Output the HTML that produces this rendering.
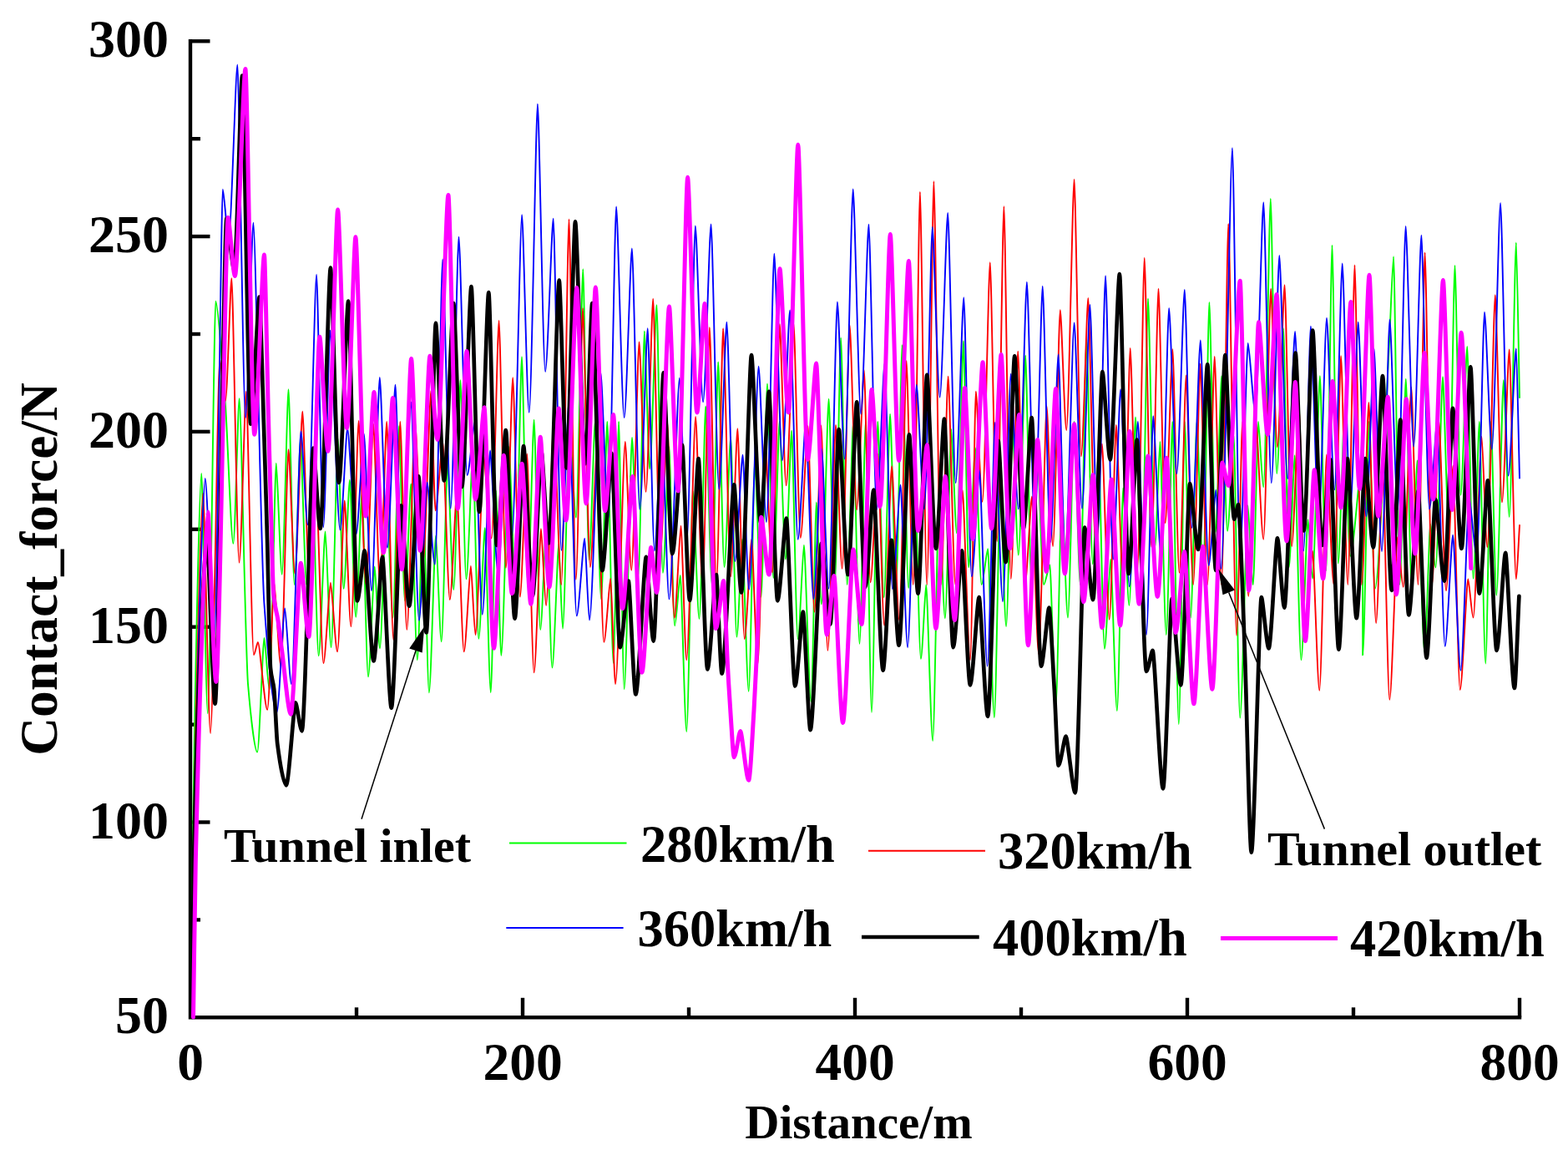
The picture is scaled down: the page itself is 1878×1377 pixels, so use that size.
<!DOCTYPE html>
<html><head><meta charset="utf-8"><title>Contact force</title>
<style>html,body{margin:0;padding:0;background:#fff}svg{display:block}text{font-family:"Liberation Serif",serif;font-weight:bold;fill:#000}</style></head>
<body>
<svg width="1878" height="1377" viewBox="0 0 1878 1377">
<rect width="1878" height="1377" fill="#fff"/>
<g stroke="#000" stroke-width="4.4" fill="none" stroke-linecap="butt">
<path d="M228.0 47.1 V1218.3 H1822.2"/>
<path d="M228.0 1101.4 h12.0"/>
<path d="M228.0 984.5 h23.5"/>
<path d="M228.0 867.6 h12.0"/>
<path d="M228.0 750.7 h23.5"/>
<path d="M228.0 633.8 h12.0"/>
<path d="M228.0 516.9 h23.5"/>
<path d="M228.0 400.0 h12.0"/>
<path d="M228.0 283.1 h23.5"/>
<path d="M228.0 166.2 h12.0"/>
<path d="M228.0 49.3 h23.5"/>
<path d="M427.0 1218.3 v-12.0"/>
<path d="M626.0 1218.3 v-23.5"/>
<path d="M825.0 1218.3 v-12.0"/>
<path d="M1024.0 1218.3 v-23.5"/>
<path d="M1223.0 1218.3 v-12.0"/>
<path d="M1422.0 1218.3 v-23.5"/>
<path d="M1621.0 1218.3 v-12.0"/>
<path d="M1820.0 1218.3 v-23.5"/>
</g>
<g fill="none" stroke-linejoin="round" stroke-linecap="round">
<path stroke="#00ff00" stroke-width="1.9" d="M229 1218C229.6 1152.6 230.4 1040.4 231 1000C234.1 791.7 239.2 567 241.3 567C242.8 567 246.7 854.3 248.8 854.3C251.5 854.3 256.4 360.6 258.3 360.6C260.7 360.6 266.5 439.1 270 486C272.8 524 276.8 650.8 279.4 650.8C281.4 650.8 285.2 477.3 286.6 477.3C288.7 477.3 293.9 781.4 297 819C300.4 859.3 305.1 900.6 308.2 900.6C310.5 900.6 314.8 764 316.5 764C317.7 764 321 825.8 322.7 825.8C325 825.8 329.2 554.6 330.8 554.6C332.2 554.6 335.8 687.7 337.7 687.7C339.9 687.7 344 466.3 345.5 466.3C347 466.3 350.7 700 352.7 700C354.7 700 358.5 526.4 359.9 526.4C361.4 526.4 365.1 700 367.1 700C369.2 700 372.9 580 374.4 580C375.8 580 379.6 785.3 381.6 785.3C383.8 785.3 388 636.5 389.6 636.5C391 636.5 394.7 775.3 396.6 775.3C398.9 775.3 403 525.2 404.6 525.2C406 525.2 409.6 704.9 411.6 704.9C413.6 704.9 417.4 574.7 418.9 574.7C420.4 574.7 424.2 738.7 426.2 738.7C428.3 738.7 432.1 590 433.6 590C435.1 590 438.9 810.4 441 810.4C443.2 810.4 447.2 678.4 448.8 678.4C450 678.4 453.3 776.5 455 776.5C457.2 776.5 461.3 590 462.8 590C464.4 590 468.5 739.7 470.6 739.7C472.7 739.7 476.5 510.1 477.9 510.1C479.3 510.1 483 719.3 484.9 719.3C487 719.3 490.8 579.5 492.3 579.5C493.8 579.5 497.7 790.3 499.8 790.3C501.8 790.3 505.5 590 506.9 590C508.3 590 511.9 829.2 513.9 829.2C516.1 829.2 520.3 641.5 522 641.5C523.3 641.5 526.8 768.3 528.7 768.3C530.7 768.3 534.6 552.3 536 552.3C537.5 552.3 541.3 706.1 543.4 706.1C545.6 706.1 549.8 455.1 551.4 455.1C552.8 455.1 556.4 693.3 558.4 693.3C560.7 693.3 564.8 541.4 566.4 541.4C567.8 541.4 571.3 764.8 573.3 764.8C575.4 764.8 579.3 632.1 580.8 632.1C582.2 632.1 585.8 829.2 587.8 829.2C589.5 829.2 592.8 587.4 594 587.4C595.3 587.4 598.6 784.8 600.3 784.8C602.9 784.8 607.7 535.2 609.6 535.2C611.1 535.2 615.1 700 617.3 700C619.4 700 623.4 427.3 625 427.3C626.4 427.3 630.2 700 632.3 700C634.3 700 638.1 502.6 639.6 502.6C641.1 502.6 645 754 647.2 754C649.2 754 653.1 623.9 654.6 623.9C656 623.9 659.5 799.6 661.4 799.6C663.6 799.6 667.7 651.5 669.3 651.5C670.2 651.5 672.6 752.7 674 752.7C676.2 752.7 680.4 507.3 682 507.3C683.6 507.3 687.8 619.6 690 619.6C692.3 619.6 696.6 322.3 698.3 322.3C699.7 322.3 703.5 670.1 705.5 670.1C707.6 670.1 711.3 505 712.8 505C714.2 505 718 717.2 720 717.2C722.1 717.2 725.9 505 727.3 505C728.8 505 732.6 793.9 734.6 793.9C736.4 793.9 739.8 505 741.1 505C742.4 505 745.8 825.3 747.6 825.3C750.3 825.3 755.1 523.9 757 523.9C758.5 523.9 762.4 689 764.5 689C766.6 689 770.4 396.5 771.9 396.5C773.2 396.5 776.5 561.5 778.2 561.5C780.5 561.5 784.8 365.1 786.5 365.1C788 365.1 791.8 685.9 793.9 685.9C796 685.9 799.9 535.2 801.4 535.2C802.7 535.2 806.2 749.3 808.1 749.3C810 749.3 813.4 689 814.8 689C816.3 689 820.2 876.1 822.3 876.1C824.4 876.1 828.4 588.2 829.9 588.2C831.4 588.2 835.4 741.1 837.5 741.1C839.7 741.1 843.7 486.4 845.2 486.4C846.7 486.4 850.6 700 852.7 700C854.8 700 858.7 433.5 860.2 433.5C861.7 433.5 865.4 679 867.5 679C869.6 679 873.7 523.3 875.2 523.3C876.7 523.3 880.4 762.6 882.4 762.6C884.3 762.6 887.7 645.8 889 645.8C890.5 645.8 894.6 827.8 896.7 827.8C898.8 827.8 902.6 552 904.1 552C905.6 552 909.5 714.7 911.5 714.7C913.6 714.7 917.5 459.4 919 459.4C920.5 459.4 924.3 692 926.3 692C928.4 692 932.2 505 933.6 505C935.1 505 938.9 669.6 940.9 669.6C942.9 669.6 946.7 515.8 948.2 515.8C949.6 515.8 953.5 765.2 955.6 765.2C957.6 765.2 961.5 652.7 962.9 652.7C964.6 652.7 969 840.3 971.4 840.3C973.2 840.3 976.5 601.4 977.8 601.4C979 601.4 982.1 723.4 983.8 723.4C986.3 723.4 990.8 477.6 992.6 477.6C994 477.6 997.8 700 999.8 700C1001.9 700 1005.6 404.4 1007.1 404.4C1008.6 404.4 1012.5 700 1014.6 700C1016.6 700 1020.5 505 1022 505C1023.5 505 1027.4 770.9 1029.5 770.9C1031.5 770.9 1035.3 505 1036.8 505C1038.2 505 1042 852.8 1044 852.8C1046.1 852.8 1049.9 505 1051.3 505C1052.8 505 1056.6 715.3 1058.7 715.3C1060.7 715.3 1064.6 495.7 1066.1 495.7C1067.5 495.7 1071.3 700 1073.3 700C1075.3 700 1079.1 413.1 1080.6 413.1C1082.1 413.1 1086 704 1088.1 704C1090.2 704 1094 562.6 1095.5 562.6C1097 562.6 1100.8 788.9 1102.9 788.9C1104.7 788.9 1108 700.3 1109.2 700.3C1110.8 700.3 1115 887.1 1117.2 887.1C1119.2 887.1 1123.1 590 1124.6 590C1126 590 1129.9 740.2 1131.9 740.2C1134 740.2 1137.9 513.9 1139.4 513.9C1140.7 513.9 1144.1 638.3 1145.9 638.3C1148.2 638.3 1152.4 408.1 1154 408.1C1155.3 408.1 1158.4 679.3 1160.1 679.3C1162.4 679.3 1166.5 536.4 1168.1 536.4C1169.6 536.4 1173.5 700 1175.6 700C1177.7 700 1181.7 657.1 1183.2 657.1C1184.7 657.1 1188.7 859.1 1190.9 859.1C1192.9 859.1 1196.6 580.9 1198 580.9C1199.4 580.9 1203.1 750.1 1205.1 750.1C1207.2 750.1 1211 506.5 1212.5 506.5C1214 506.5 1217.8 664.6 1219.8 664.6C1222.2 664.6 1226.5 425.7 1228.2 425.7C1229.7 425.7 1233.5 700 1235.5 700C1237.5 700 1241.3 551.1 1242.8 551.1C1244.2 551.1 1248 700 1250.1 700C1252.1 700 1255.9 676.5 1257.4 676.5C1258.8 676.5 1262.5 845.4 1264.5 845.4C1266.5 845.4 1270.3 588.3 1271.7 588.3C1273.2 588.3 1276.9 739.6 1279 739.6C1281.1 739.6 1285 505 1286.5 505C1288 505 1291.8 700 1293.9 700C1296 700 1299.9 406.3 1301.4 406.3C1302.9 406.3 1306.7 675.3 1308.7 675.3C1310.7 675.3 1314.4 537.6 1315.8 537.6C1317.2 537.6 1320.9 776.9 1322.9 776.9C1324.9 776.9 1328.7 669.6 1330.2 669.6C1331.8 669.6 1335.8 851.1 1337.9 851.1C1339.9 851.1 1343.7 584.2 1345.2 584.2C1346.6 584.2 1350.4 724.9 1352.4 724.9C1354.5 724.9 1358.5 499.5 1360 499.5C1361.5 499.5 1365.4 690.7 1367.5 690.7C1369.6 690.7 1373.5 357.4 1375 357.4C1376.6 357.4 1380.9 655.2 1383.2 655.2C1384.9 655.2 1388.2 528.9 1389.4 528.9C1390.9 528.9 1394.7 760.1 1396.8 760.1C1398.9 760.1 1402.8 505 1404.3 505C1405.8 505 1409.7 867.1 1411.8 867.1C1413.8 867.1 1417.5 505 1418.9 505C1420.3 505 1424 739.9 1426 739.9C1428.1 739.9 1432 505 1433.5 505C1435 505 1438.9 688.2 1440.9 688.2C1443 688.2 1446.9 361.9 1448.4 361.9C1449.9 361.9 1453.7 637.1 1455.7 637.1C1457.8 637.1 1461.7 450.1 1463.2 450.1C1464.6 450.1 1468.2 635.8 1470.1 635.8C1472.2 635.8 1476.1 521.7 1477.7 521.7C1479.2 521.7 1483.1 859.6 1485.2 859.6C1487.8 859.6 1492.6 605.2 1494.5 605.2C1495.8 605.2 1499 700 1500.8 700C1502.5 700 1505.8 505 1507 505C1508.3 505 1511.5 583.3 1513.3 583.3C1515.7 583.3 1520.1 237.9 1521.8 237.9C1523.3 237.9 1527.1 567.1 1529.2 567.1C1531.4 567.1 1535.5 393.2 1537.1 393.2C1538.4 393.2 1541.9 679.2 1543.8 679.2C1545.7 679.2 1549.2 545.2 1550.6 545.2C1552.1 545.2 1556.2 790.2 1558.4 790.2C1560.6 790.2 1564.8 622.1 1566.5 622.1C1567.6 622.1 1570.5 692.8 1572.1 692.8C1574.5 692.8 1579.1 450.1 1580.9 450.1C1582.3 450.1 1586.1 683.2 1588.2 683.2C1590.2 683.2 1594 293.7 1595.5 293.7C1596.9 293.7 1600.7 674.5 1602.7 674.5C1604.7 674.5 1608.5 505 1609.9 505C1611.4 505 1615.1 665.9 1617.2 665.9C1621.3 665.9 1629 545 1632 545C1632 545 1632.2 784.4 1632.2 784.4C1634.3 784.4 1638.1 505 1639.6 505C1641 505 1644.8 704.7 1646.9 704.7C1651.5 704.7 1658.5 513.9 1663.5 420C1665.2 388.6 1667.9 307.3 1669.1 307.3C1670.5 307.3 1674.4 700 1676.4 700C1678.5 700 1682.3 453.8 1683.8 453.8C1685.2 453.8 1688.8 700 1690.7 700C1692.6 700 1696.2 551.4 1697.6 551.4C1699.3 551.4 1703.7 780.2 1706.1 780.2C1708.1 780.2 1711.8 627.7 1713.2 627.7C1714.5 627.7 1717.7 679.6 1719.5 679.6C1721.9 679.6 1726.3 451.3 1728 451.3C1729.4 451.3 1733.2 634 1735.2 634C1737.3 634 1741 318 1742.5 318C1743.9 318 1747.5 592.7 1749.5 592.7C1751.7 592.7 1755.7 415 1757.3 415C1758.7 415 1762.5 692.8 1764.5 692.8C1766.6 692.8 1770.4 505 1771.9 505C1773.4 505 1777.2 794.5 1779.3 794.5C1781.1 794.5 1784.5 505 1785.8 505C1787.1 505 1790.5 712.7 1792.3 712.7C1794.7 712.7 1799.1 455.1 1800.8 455.1C1802.2 455.1 1805.8 618.9 1807.7 618.9C1810 618.9 1814.2 290.5 1815.9 290.5C1816.7 290.5 1818.8 420.3 1820 476"/>
<path stroke="#ff0000" stroke-width="1.9" d="M229.5 1218C230.2 1152.6 231.2 1042.3 232 1000C235.4 810.6 241 590.8 243.2 590.8C245 590.8 249.6 878 252.1 878C255.2 878 261 430 263.2 430C264.6 430 268.1 480 270 480C272.1 480 275.9 333.1 277.4 333.1C279.2 333.1 283.9 673.7 286.5 673.7C288.8 673.7 293.2 468.6 294.8 468.6C296.7 468.6 301.4 784.1 303.9 784.1C305.3 784.1 307.9 769 308.9 769C311.2 769 317.1 849.9 320.2 849.9C322.5 849.9 326.8 698 328.4 698C330 698 334.2 797.8 336.5 797.8C339 797.8 343.7 538.3 345.5 538.3C347.1 538.3 351.1 686.7 353.2 686.7C355.8 686.7 360.5 492.6 362.3 492.6C364 492.6 368.3 700 370.7 700C373 700 377.3 590 379 590C380.7 590 385 794.1 387.4 794.1C389.7 794.1 394.2 697.6 395.9 697.6C397.5 697.6 401.8 780.3 404.1 780.3C406.5 780.3 411 599.5 412.7 599.5C414.3 599.5 418.3 750.2 420.4 750.2C423 750.2 427.8 503.9 429.6 503.9C431.4 503.9 435.9 700 438.4 700C440.9 700 445.4 507.6 447.2 507.6C448.8 507.6 452.9 700 455.2 700C457.5 700 461.6 505 463.2 505C464.9 505 469 766.5 471.3 766.5C473.5 766.5 477.7 505 479.3 505C480.9 505 485.1 754 487.3 754C490 754 495.1 505 497 505C498.9 505 503.9 673.5 506.7 673.5C509.4 673.5 514.4 467.6 516.3 467.6C517.4 467.6 520.1 611.4 521.6 611.4C524 611.4 528.5 528.7 530.2 528.7C531.9 528.7 536.4 718 538.8 718C541.1 718 545.5 590 547.2 590C548.9 590 553.3 780.3 555.7 780.3C558 780.3 562.3 677.7 563.9 677.7C565 677.7 567.9 760.3 569.5 760.3C572.2 760.3 577.2 545.3 579.1 545.3C581 545.3 586 644.6 588.7 644.6C591.2 644.6 595.8 383.9 597.6 383.9C599.2 383.9 603.5 679.9 605.9 679.9C608.2 679.9 612.5 452.3 614.2 452.3C615.9 452.3 620.4 714.6 622.8 714.6C625.1 714.6 629.5 543.4 631.2 543.4C632.9 543.4 637.3 805.4 639.6 805.4C642 805.4 646.3 633.3 648 633.3C649.2 633.3 652.4 725 654.1 725C656.6 725 661.4 505 663.2 505C665 505 669.8 700 672.3 700C674.9 700 679.7 262.4 681.5 262.4C683.1 262.4 687.4 693.9 689.8 693.9C692.1 693.9 696.4 368.9 698 368.9C699.8 368.9 704.4 679 706.9 679C709.2 679 713.5 535.2 715.1 535.2C716.8 535.2 721 768.9 723.3 768.9C725.6 768.9 729.7 692.8 731.3 692.8C732.5 692.8 735.5 819 737.1 819C740.4 819 746.5 528.9 748.8 528.9C750.3 528.9 754.2 682.8 756.3 682.8C758.9 682.8 763.6 409.4 765.5 409.4C767.1 409.4 771.3 588.9 773.6 588.9C776 588.9 780.5 357.6 782.2 357.6C783.9 357.6 788.3 664.7 790.7 664.7C793.1 664.7 797.5 505 799.2 505C800.9 505 805.3 739.9 807.7 739.9C809.9 739.9 814 629.6 815.5 629.6C816.9 629.6 820.4 790.2 822.3 790.2C825.3 790.2 830.9 498.9 833.1 498.9C834.7 498.9 839.1 700 841.5 700C843.8 700 848.2 392 849.9 392C851.5 392 855.7 700 858 700C860.3 700 864.5 393.2 866.1 393.2C868 393.2 872.7 690.3 875.2 690.3C877.5 690.3 881.7 513.3 883.4 513.3C885 513.3 889.4 765.1 891.7 765.1C894.1 765.1 898.6 645.8 900.3 645.8C901.7 645.8 905.5 795.2 907.5 795.2C909.9 795.2 914.5 522.9 916.3 522.9C918 522.9 922.6 685.4 925 685.4C927.5 685.4 932 388 933.8 388C935.4 388 939.4 581.4 941.6 581.4C944.2 581.4 948.8 388 950.6 388C952.2 388 956.5 644 958.8 644C961.2 644 965.8 510.1 967.6 510.1C969.1 510.1 973.3 732.7 975.5 732.7C977.8 732.7 981.9 509.5 983.5 509.5C985.1 509.5 989.2 778.9 991.4 778.9C994.1 778.9 999.1 508.9 1001 508.9C1002.5 508.9 1006.5 680.9 1008.6 680.9C1011.2 680.9 1015.9 389.5 1017.7 389.5C1019.4 389.5 1023.8 610.2 1026.1 610.2C1028.6 610.2 1033.1 443.2 1034.9 443.2C1036.4 443.2 1040.5 697.2 1042.6 697.2C1045.1 697.2 1049.7 543.9 1051.4 543.9C1052.9 543.9 1056.9 748.9 1059.1 748.9C1061.6 748.9 1066.3 558.3 1068.1 558.3C1069.9 558.3 1074.6 742.7 1077.1 742.7C1079.5 742.7 1083.9 431.9 1085.6 431.9C1087.2 431.9 1091.5 700 1093.7 700C1096 700 1100.3 229.6 1101.9 229.6C1103.6 229.6 1107.8 700 1110.2 700C1112.5 700 1116.8 217.1 1118.4 217.1C1120.2 217.1 1124.6 700 1127 700C1129.4 700 1133.9 450.7 1135.6 450.7C1137.4 450.7 1141.8 700 1144.2 700C1146.6 700 1151.1 587 1152.8 587C1154.6 587 1159.5 790.3 1162 790.3C1163.9 790.3 1167.4 468.6 1168.8 468.6C1170.3 468.6 1174.4 600.8 1176.6 600.8C1179.2 600.8 1184 314.3 1185.8 314.3C1187.5 314.3 1191.8 648 1194.1 648C1196.4 648 1200.7 247.1 1202.4 247.1C1204.1 247.1 1208.4 693.1 1210.8 693.1C1213.1 693.1 1217.5 420.7 1219.2 420.7C1220.9 420.7 1225.2 700 1227.6 700C1229.9 700 1234.3 594.5 1236 594.5C1237.6 594.5 1241.7 782.8 1244 782.8C1246.7 782.8 1251.7 486.4 1253.6 486.4C1255.1 486.4 1259 654 1261.1 654C1263.5 654 1268 371.2 1269.8 371.2C1271.3 371.2 1275.2 515.1 1277.3 515.1C1279.9 515.1 1284.7 214.8 1286.6 214.8C1288.2 214.8 1292.6 546.4 1294.9 546.4C1297.3 546.4 1301.7 356.9 1303.3 356.9C1305 356.9 1309.3 643.2 1311.6 643.2C1314 643.2 1318.3 531.4 1319.9 531.4C1321.7 531.4 1326.2 741.8 1328.7 741.8C1331 741.8 1335.2 508.9 1336.8 508.9C1338.5 508.9 1342.9 700 1345.3 700C1347.7 700 1352.1 416.9 1353.7 416.9C1355.4 416.9 1359.9 684 1362.2 684C1364.6 684 1369 308.8 1370.7 308.8C1372.4 308.8 1376.8 654.9 1379.1 654.9C1381.5 654.9 1385.8 345.6 1387.5 345.6C1389.1 345.6 1393.4 626.4 1395.6 626.4C1398.1 626.4 1402.6 418.1 1404.4 418.1C1406 418.1 1410.2 685.9 1412.5 685.9C1414.8 685.9 1419 449.4 1420.7 449.4C1422.3 449.4 1426.7 700 1429.1 700C1431.5 700 1435.9 435.7 1437.6 435.7C1439.3 435.7 1443.7 700 1446.1 700C1448.5 700 1453 426.9 1454.7 426.9C1456.4 426.9 1460.6 700 1463 700C1465.3 700 1469.6 267.9 1471.2 267.9C1473.2 267.9 1478.3 760.9 1481.1 760.9C1483 760.9 1486.7 505 1488.1 505C1489.5 505 1493.2 713.8 1495.2 713.8C1497.7 713.8 1502.4 505 1504.2 505C1506 505 1510.7 645.8 1513.3 645.8C1515.7 645.8 1520.3 345.6 1522.1 345.6C1523.6 345.6 1527.7 535.2 1529.9 535.2C1532.3 535.2 1536.9 341.1 1538.6 341.1C1540.3 341.1 1544.7 654 1547.1 654C1549.5 654 1554.1 487.6 1555.8 487.6C1557.3 487.6 1561.3 742.7 1563.4 742.7C1565.8 742.7 1570.4 659.6 1572.1 659.6C1573.7 659.6 1578 826.8 1580.3 826.8C1582.7 826.8 1587.2 544.5 1588.9 544.5C1590.6 544.5 1595.1 700 1597.5 700C1599.9 700 1604.4 426.3 1606.1 426.3C1607.8 426.3 1612 700 1614.3 700C1616.6 700 1620.8 317.5 1622.5 317.5C1624.1 317.5 1628.6 700 1630.9 700C1633.3 700 1637.7 482 1639.4 482C1641.1 482 1645.6 746.1 1648.1 746.1C1650.3 746.1 1654.6 560.7 1656.2 560.7C1657.8 560.7 1662 837.8 1664.3 837.8C1667 837.8 1671.9 643.3 1673.8 643.3C1675.2 643.3 1678.8 702.8 1680.7 702.8C1683.4 702.8 1688.4 463.8 1690.3 463.8C1692 463.8 1696.2 700 1698.5 700C1700.8 700 1705 302.5 1706.6 302.5C1708.3 302.5 1712.7 700 1715.1 700C1717.5 700 1721.9 505 1723.5 505C1725.2 505 1729.6 707.2 1732 707.2C1734.3 707.2 1738.7 557.8 1740.4 557.8C1742 557.8 1746.4 826 1748.7 826C1751.4 826 1756.4 693.4 1758.3 693.4C1759.5 693.4 1762.8 739.5 1764.5 739.5C1767.3 739.5 1772.5 522.7 1774.6 522.7C1775.9 522.7 1779.5 655.2 1781.4 655.2C1784.1 655.2 1788.9 353.1 1790.8 353.1C1792.4 353.1 1796.7 601.4 1799 601.4C1801.4 601.4 1806 418.5 1807.7 418.5C1809.3 418.5 1813.6 693.4 1815.9 693.4C1817 693.4 1818.8 648.3 1820 629"/>
<path stroke="#0000ff" stroke-width="1.9" d="M230 1218C230.8 1152.6 231.8 1039.5 232.5 1000C236.5 791.4 243.1 573 245.7 573C248 573 253.8 760 257 760C259.8 760 264.9 226.6 266.8 226.6C268.3 226.6 271.9 285.5 273.9 285.5C276.8 285.5 282.3 77.5 284.4 77.5C286.3 77.5 291.4 500.1 294.1 500.1C296.7 500.1 301.6 266.7 303.4 266.7C306 266.7 312.5 667.4 316.4 722.2C320.9 786.2 327.3 853 331.5 853C334.2 853 339.2 728.4 341.2 728.4C342.7 728.4 346.8 819.1 349 819.1C352.2 819.1 358.1 516.4 360.4 516.4C362.1 516.4 366.4 628.3 368.7 628.3C371.6 628.3 377 328.8 379.1 328.8C380.7 328.8 385 631.3 387.2 631.3C389.5 631.3 393.7 395.7 395.4 395.7C397.8 395.7 404 634.6 407.4 634.6C409.8 634.6 414.4 512.6 416.1 512.6C418.2 512.6 423.6 640 426.5 640C429.1 640 434 519.5 435.9 519.5C437.7 519.5 442.5 707.2 445 707.2C447.8 707.2 452.8 452 454.8 452C456.6 452 461.4 655.9 464 655.9C466.7 655.9 471.6 460.7 473.5 460.7C474.9 460.7 478.7 658.4 480.7 658.4C484 658.4 490.2 481.4 492.5 481.4C494.4 481.4 499.3 742.8 501.9 742.8C504.6 742.8 509.6 577.6 511.6 577.6C513.4 577.6 518.3 675.7 520.9 675.7C523.5 675.7 528.3 310.5 530.2 310.5C532.1 310.5 537.1 608.9 539.7 608.9C542.5 608.9 547.5 283.7 549.5 283.7C551.5 283.7 556.7 569 559.5 569C562.1 569 566.8 505 568.6 505C570.4 505 575.2 735.8 577.7 735.8C580.3 735.8 585.2 539.5 587 539.5C588.9 539.5 593.8 685.8 596.5 685.8C599.1 685.8 604 530 605.9 530C607.4 530 611.2 640.8 613.3 640.8C616.6 640.8 622.8 257.2 625.1 257.2C626.8 257.2 631.3 493.9 633.7 493.9C636.6 493.9 641.9 124.4 643.9 124.4C645.7 124.4 650.5 445.1 653.1 445.1C655.8 445.1 660.8 261.7 662.7 261.7C664.6 261.7 669.7 659 672.4 659C674.9 659 679.7 480 681.5 480C683.3 480 688.1 737.4 690.7 737.4C693.4 737.4 698.4 644.6 700.3 644.6C701.4 644.6 704.4 742.4 706 742.4C709.8 742.4 716.7 446.3 719.4 446.3C721.3 446.3 726.1 620 728.7 620C731.3 620 736.2 247.4 738.1 247.4C740 247.4 744.9 500.1 747.6 500.1C750.2 500.1 755 297.5 756.9 297.5C758.8 297.5 763.7 610 766.3 610C768.9 610 773.8 393.2 775.7 393.2C777.3 393.2 781.6 659.6 783.9 659.6C786.3 659.6 790.9 505 792.7 505C794.4 505 799 717.4 801.4 717.4C804.9 717.4 811.4 452.6 813.9 452.6C815.7 452.6 820.2 647.1 822.7 647.1C825.5 647.1 830.8 270.4 832.8 270.4C834.7 270.4 839.5 481.4 842.1 481.4C844.7 481.4 849.7 268.4 851.6 268.4C853.5 268.4 858.5 585.8 861.2 585.8C863.8 585.8 868.6 385.7 870.4 385.7C872.4 385.7 877.5 672.1 880.2 672.1C882.9 672.1 887.7 544.6 889.6 544.6C891.1 544.6 895 705.9 897.1 705.9C900.4 705.9 906.3 438.8 908.6 438.8C910.5 438.8 915.4 625 918 625C920.6 625 925.4 303.8 927.3 303.8C929.2 303.8 934.2 551.4 936.9 551.4C939.5 551.4 944.2 371.4 946.1 371.4C948 371.4 953 645.8 955.7 645.8C958.3 645.8 963.2 505 965.1 505C966.9 505 971.8 717.2 974.4 717.2C977.1 717.2 982.1 537.7 984.1 537.7C985.8 537.7 990.2 704.7 992.6 704.7C995.5 704.7 1000.9 361.4 1002.9 361.4C1004.7 361.4 1009.3 549.6 1011.7 549.6C1014.5 549.6 1019.7 226.4 1021.7 226.4C1023.6 226.4 1028.5 495.7 1031.1 495.7C1033.8 495.7 1038.6 268.7 1040.5 268.7C1042.4 268.7 1047.4 610 1050 610C1052.7 610 1057.6 435 1059.5 435C1061.4 435 1066.3 705.3 1068.9 705.3C1071.6 705.3 1076.6 580.8 1078.6 580.8C1080.3 580.8 1084.7 775.2 1087.1 775.2C1090.1 775.2 1095.6 460.7 1097.7 460.7C1099.6 460.7 1104.5 609.5 1107.1 609.5C1109.8 609.5 1114.8 271.7 1116.7 271.7C1118.5 271.7 1123.1 475.7 1125.6 475.7C1128.3 475.7 1133.3 254.9 1135.2 254.9C1137.1 254.9 1142 578.3 1144.6 578.3C1147.3 578.3 1152.4 356.1 1154.3 356.1C1156.2 356.1 1161.1 690.3 1163.8 690.3C1166.4 690.3 1171.3 563.3 1173.1 563.3C1175 563.3 1179.9 797.7 1182.6 797.7C1185.2 797.7 1189.9 505.9 1191.8 505.9C1193.6 505.9 1198.4 720.2 1201 720.2C1203.7 720.2 1208.7 447.6 1210.7 447.6C1212.5 447.6 1217.3 609.5 1219.8 609.5C1222.7 609.5 1227.9 337.6 1229.9 337.6C1231.8 337.6 1236.7 629.6 1239.3 629.6C1242 629.6 1246.9 342.6 1248.7 342.6C1250.6 342.6 1255.5 649 1258.2 649C1260.8 649 1265.7 424.4 1267.6 424.4C1269.3 424.4 1273.5 667.1 1275.8 667.1C1278.8 667.1 1284.4 386.4 1286.6 386.4C1288.5 386.4 1293.4 608.9 1296 608.9C1298.7 608.9 1303.5 364.9 1305.4 364.9C1307.2 364.9 1312.1 639.7 1314.7 639.7C1317.4 639.7 1322.3 330.1 1324.1 330.1C1325.9 330.1 1330.6 669.9 1333.1 669.9C1335.6 669.9 1340.3 466.3 1342.1 466.3C1344.2 466.3 1349.8 702.2 1352.7 702.2C1355.6 702.2 1360.8 505 1362.9 505C1364.9 505 1370.2 760.1 1373 760.1C1375.3 760.1 1379.5 498.2 1381.2 498.2C1383 498.2 1388 666.7 1390.6 666.7C1393.2 666.7 1398.2 368.9 1400.1 368.9C1401.9 368.9 1406.8 567.1 1409.4 567.1C1412 567.1 1417 346.9 1418.8 346.9C1420.6 346.9 1425.1 632.1 1427.5 632.1C1430.4 632.1 1435.8 407.5 1437.8 407.5C1439.8 407.5 1444.8 677.1 1447.6 677.1C1450 677.1 1454.6 586.4 1456.3 586.4C1457.6 586.4 1460.8 680.9 1462.6 680.9C1466.3 680.9 1473.3 177.2 1476 177.2C1477.8 177.2 1482.6 664.6 1485.1 664.6C1487.8 664.6 1492.8 411 1494.7 411C1496.5 411 1501.1 493.9 1503.6 493.9C1506.3 493.9 1511.4 242.1 1513.3 242.1C1515.2 242.1 1520 578.3 1522.7 578.3C1525.4 578.3 1530.4 306 1532.3 306C1534.3 306 1539.3 573.3 1542.1 573.3C1544.6 573.3 1549.3 397 1551.1 397C1553.1 397 1558.4 659.6 1561.2 659.6C1563.6 659.6 1568.2 390.7 1569.9 390.7C1571.8 390.7 1576.8 623.7 1579.4 623.7C1582.1 623.7 1587 380.7 1589 380.7C1590.8 380.7 1595.7 586.4 1598.4 586.4C1601 586.4 1605.9 315.5 1607.7 315.5C1609.6 315.5 1614.6 610 1617.2 610C1619.9 610 1624.8 385.7 1626.7 385.7C1628.6 385.7 1633.6 618.3 1636.3 618.3C1638.9 618.3 1643.8 417.5 1645.6 417.5C1647.5 417.5 1652.4 660.2 1655 660.2C1657.7 660.2 1662.6 382.7 1664.5 382.7C1666.4 382.7 1671.4 610 1674.1 610C1676.7 610 1681.7 270.9 1683.6 270.9C1685.5 270.9 1690.5 534.5 1693.2 534.5C1695.8 534.5 1700.5 281.7 1702.4 281.7C1704.3 281.7 1709.3 609.5 1712 609.5C1714.6 609.5 1719.5 505 1721.3 505C1723.2 505 1728.1 773.9 1730.7 773.9C1733.3 773.9 1738.2 640.8 1740.1 640.8C1742 640.8 1746.9 802.7 1749.5 802.7C1752.3 802.7 1757.5 595.8 1759.5 595.8C1761.4 595.8 1766.2 665.7 1768.8 665.7C1771.4 665.7 1776.2 373.7 1778 373.7C1779.8 373.7 1784.4 537.7 1786.8 537.7C1789.7 537.7 1795 242.9 1797.1 242.9C1799 242.9 1803.8 569.6 1806.5 569.6C1809.1 569.6 1814 417.5 1815.9 417.5C1816.7 417.5 1818.8 526.1 1820 572.6"/>
<path stroke="#000000" stroke-width="4.7" d="M230 1218C230.6 1162.2 231.4 1059 232 1032C236.8 815.5 244.8 648 248.1 648C250 648 254.9 842.7 257.6 842.7C261.4 842.7 268.6 261.7 271.4 261.7C273.2 261.7 278 323.1 280.6 323.1C283.3 323.1 288.2 90.6 290.1 90.6C292.2 90.6 297.4 507.7 300.2 507.7C303.1 507.7 308.6 355.6 310.7 355.6C311.8 355.6 314.7 471 316.5 525.3C317.6 560.7 319.1 609.6 320.2 650.5C321.3 691.4 322.8 788.4 324 800.1C325.2 813.4 327 814.1 328.2 825.2C329.4 835.6 331 880.7 332.2 890.3C335.4 915.6 339.8 940.4 342.8 940.4C345.9 940.4 351.8 841.4 354 841.4C355.5 841.4 359.4 875.3 361.6 875.3C365.4 875.3 372.6 536.5 375.3 536.5C377 536.5 381.3 633 383.6 633C387 633 393.4 320.6 395.9 320.6C397.9 320.6 403.1 577.9 405.9 577.9C409.1 577.9 414.9 360.6 417.2 360.6C419.3 360.6 424.9 719.4 427.9 719.4C430.4 719.4 435 659.3 436.7 659.3C438.9 659.3 444.5 791.3 447.5 791.3C450.4 791.3 455.9 666.8 458 666.8C460.2 666.8 465.8 847.7 468.8 847.7C472.1 847.7 478.2 605.4 480.6 605.4C482.5 605.4 487.4 725.7 490.1 725.7C493.2 725.7 499.1 570.4 501.3 570.4C503.2 570.4 508 757.5 510.6 757.5C513.8 757.5 519.6 386.9 521.9 386.9C523.9 386.9 529.1 575.4 531.9 575.4C535.1 575.4 540.9 363.1 543.2 363.1C545.2 363.1 550.4 582.9 553.2 582.9C556.4 582.9 562.2 343.1 564.5 343.1C566.4 343.1 571.3 613 574 613C577.2 613 583 350.1 585.3 350.1C587.2 350.1 592.3 653 595 653C598.1 653 603.7 515.2 605.8 515.2C608 515.2 613.6 740.7 616.6 740.7C619.5 740.7 625 534 627.1 534C629.3 534 634.9 713.2 637.9 713.2C640.8 713.2 646.3 540.3 648.4 540.3C650.2 540.3 654.7 650.5 657.2 650.5C660.7 650.5 667.2 335.6 669.7 335.6C671.5 335.6 676 560.3 678.5 560.3C681.4 560.3 686.9 265.4 689 265.4C691.4 265.4 697.5 555.3 700.8 555.3C703.2 555.3 707.6 363.1 709.3 363.1C711.7 363.1 718 683.1 721.3 683.1C724.5 683.1 730.4 542.8 732.6 542.8C734.6 542.8 739.8 775.2 742.6 775.2C745.4 775.2 750.7 695.6 752.7 695.6C754.4 695.6 759 831.5 761.4 831.5C764.9 831.5 771.4 666.8 773.9 666.8C775.7 666.8 780.3 767.6 782.7 767.6C786.1 767.6 792.3 446.3 794.7 446.3C796.8 446.3 802.3 663.1 805.3 663.1C808.6 663.1 814.7 532.8 817 532.8C818.8 532.8 823.5 718.8 826.1 718.8C829 718.8 834.5 549.1 836.6 549.1C838.7 549.1 844.3 801.5 847.4 801.5C850.3 801.5 855.8 688.1 857.9 688.1C859.2 688.1 862.7 806.5 864.6 806.5C868.7 806.5 876.3 580.4 879.2 580.4C880.9 580.4 885.5 709.4 887.9 709.4C891.3 709.4 897.6 425.1 900 425.1C902.2 425.1 907.9 625.5 911 625.5C913.8 625.5 919 468.9 921 468.9C923.1 468.9 928.4 719.4 931.3 719.4C934.2 719.4 939.7 620.5 941.8 620.5C943.9 620.5 949.4 821.5 952.3 821.5C955 821.5 959.9 732.6 961.8 732.6C963.6 732.6 968.2 874.1 970.6 874.1C974.3 874.1 981.2 650.5 983.9 650.5C986 650.5 991.5 747.6 994.4 747.6C997.3 747.6 1002.6 514 1004.7 514C1006.9 514 1012.6 688.1 1015.7 688.1C1018.7 688.1 1024.1 481.4 1026.2 481.4C1028.2 481.4 1033.5 703.1 1036.3 703.1C1039.1 703.1 1044.3 586.6 1046.3 586.6C1048.5 586.6 1054.4 802.7 1057.6 802.7C1060.4 802.7 1065.8 646.8 1067.8 646.8C1069.6 646.8 1074.1 772.7 1076.6 772.7C1080 772.7 1086.4 520.3 1088.9 520.3C1091 520.3 1096.6 710.7 1099.6 710.7C1102.6 710.7 1108.1 448.9 1110.2 448.9C1112.3 448.9 1117.9 656.8 1120.9 656.8C1123.7 656.8 1129 501.5 1131 501.5C1133.1 501.5 1138.7 775.2 1141.7 775.2C1144.6 775.2 1150 659.3 1152 659.3C1154 659.3 1159.2 820.3 1162 820.3C1165 820.3 1170.5 715 1172.6 715C1174.7 715 1180.1 857.8 1183.1 857.8C1186.6 857.8 1193.1 527.8 1195.6 527.8C1197.4 527.8 1202.1 673.1 1204.6 673.1C1207.6 673.1 1213.1 426.3 1215.2 426.3C1217.3 426.3 1222.7 633 1225.7 633C1228.5 633 1233.7 500.2 1235.7 500.2C1238 500.2 1243.8 797.7 1247 797.7C1249.6 797.7 1254.6 727.6 1256.5 727.6C1257.8 727.6 1260.9 793.6 1262.8 825.3C1264.3 850.6 1266.4 916.7 1267.8 916.7C1270.2 916.7 1274.8 881.6 1276.5 881.6C1278.8 881.6 1284.7 949.3 1287.8 949.3C1291 949.3 1296.8 631.7 1299.1 631.7C1301.1 631.7 1306.3 718.2 1309.1 718.2C1312.3 718.2 1318.1 445.1 1320.4 445.1C1322.2 445.1 1327.1 550.3 1329.7 550.3C1332.8 550.3 1338.7 328.1 1340.9 328.1C1343.1 328.1 1348.7 686.9 1351.7 686.9C1354.5 686.9 1359.7 526.5 1361.7 526.5C1364 526.5 1369.8 804 1373 804C1375.1 804 1379 778.9 1380.5 778.9C1383 778.9 1389.5 944.3 1393 944.3C1396 944.3 1401.5 716.9 1403.6 716.9C1405.7 716.9 1411.3 820.3 1414.3 820.3C1417.3 820.3 1423 579.1 1425.1 579.1C1427.1 579.1 1432.3 658 1435.1 658C1438.2 658 1443.9 436.3 1446.2 436.3C1448.2 436.3 1453.4 683.1 1456.2 683.1C1459.3 683.1 1465.2 425.1 1467.4 425.1C1468.8 425.1 1472.4 543.3 1474.5 575.4C1475.6 592.6 1477.2 621.7 1478.2 621.7C1479.6 621.7 1482.2 604.2 1483.2 604.2C1484.7 604.2 1488.5 716.4 1490.7 775.2C1493.2 837.8 1496.5 1020.7 1498.8 1020.7C1502.1 1020.7 1508.4 715 1510.8 715C1512.5 715 1517.1 776.4 1519.6 776.4C1522.5 776.4 1527.9 644.3 1530 644.3C1531.7 644.3 1536 727.6 1538.3 727.6C1542 727.6 1548.9 422.5 1551.6 422.5C1553.6 422.5 1558.8 635.5 1561.6 635.5C1564.5 635.5 1570 395.7 1572.2 395.7C1574.4 395.7 1580.2 653 1583.4 653C1586.2 653 1591.4 550.3 1593.4 550.3C1595.4 550.3 1600.6 777.7 1603.4 777.7C1606.4 777.7 1611.8 549.1 1613.9 549.1C1616.1 549.1 1621.7 740.1 1624.7 740.1C1627.7 740.1 1633.1 549.1 1635.2 549.1C1637.1 549.1 1642.1 655.5 1644.8 655.5C1647.9 655.5 1653.8 450.1 1656 450.1C1658.2 450.1 1663.8 706.9 1666.8 706.9C1669.7 706.9 1675.2 502.7 1677.3 502.7C1679.3 502.7 1684.5 736.3 1687.3 736.3C1690.5 736.3 1696.4 587.9 1698.6 587.9C1700.6 587.9 1705.8 787.7 1708.6 787.7C1711.6 787.7 1717.1 597.9 1719.2 597.9C1721.3 597.9 1726.9 695.6 1729.9 695.6C1732.7 695.6 1738 488.9 1740 488.9C1742.1 488.9 1747.5 656.8 1750.5 656.8C1753.5 656.8 1759.1 439.3 1761.3 439.3C1763.4 439.3 1768.8 710.7 1771.8 710.7C1774.6 710.7 1780 575.4 1782 575.4C1784.1 575.4 1789.6 778.9 1792.6 778.9C1795.5 778.9 1801 661.8 1803.1 661.8C1805.2 661.8 1810.8 824 1813.9 824C1815.4 824 1817.7 746.8 1819.4 713.8"/>
<path stroke="#ff00ff" stroke-width="5.0" d="M231.5 1218C232.3 1162.2 233.5 1069.1 234.3 1032C238.7 839.7 245.9 613 248.8 613C250.8 613 256 816.4 258.8 816.4C262.8 816.4 270.3 260.4 273.1 260.4C274.8 260.4 279.1 330.6 281.4 330.6C284.9 330.6 291.4 82.5 293.9 82.5C296.1 82.5 301.7 520.3 304.7 520.3C308 520.3 314.1 305 316.5 305C317.5 305 320 443.9 321.5 500.2C322.3 531.2 323.4 572.1 324.2 600.4C325.3 636.4 326.7 702.7 327.7 713.2C329.2 728.1 331.2 731.5 332.7 741.2C334.2 751 336.2 768.8 337.8 780.1C340.9 803.6 345.3 855.2 348.3 855.2C351.6 855.2 357.9 674.3 360.3 674.3C362.2 674.3 367.2 762.5 369.8 762.5C373.5 762.5 380.2 403.2 382.8 403.2C384.9 403.2 390.1 540.3 392.9 540.3C396.2 540.3 402.3 250.9 404.6 250.9C406.8 250.9 412.4 512.7 415.4 512.7C418.4 512.7 423.8 283.7 425.9 283.7C428.3 283.7 434.6 618 438 618C440.8 618 446 469.6 448 469.6C450.2 469.6 456.1 661.8 459.3 661.8C462.4 661.8 468.3 476.4 470.5 476.4C472.7 476.4 478.3 681.8 481.3 681.8C484.5 681.8 490.3 429.6 492.6 429.6C494.7 429.6 500.2 659.3 503.1 659.3C506.4 659.3 512.5 426.3 514.9 426.3C516.7 426.3 521.4 526.5 523.9 526.5C527.5 526.5 534.3 233.4 536.9 233.4C539.2 233.4 545 609.2 548.2 609.2C551.2 609.2 556.8 420.5 559 420.5C561.1 420.5 566.5 597.9 569.5 597.9C572.4 597.9 577.9 487.7 580 487.7C582.3 487.7 588.3 776.3 591.5 776.3C594.8 776.3 601 545.3 603.3 545.3C605.3 545.3 610.5 710.7 613.3 710.7C616.6 710.7 622.8 555.3 625.1 555.3C627.3 555.3 632.9 723.2 635.9 723.2C639 723.2 644.9 523.3 647.2 523.3C649.3 523.3 654.9 703.1 657.9 703.1C661.1 703.1 666.9 488.9 669.2 488.9C671 488.9 675.5 623 678 623C681.6 623 688.2 344.4 690.8 344.4C693 344.4 698.9 602.9 702 602.9C705.2 602.9 711.1 343.9 713.3 343.9C715.6 343.9 721.4 611.7 724.6 611.7C727.4 611.7 732.6 496.5 734.6 496.5C736.8 496.5 742.6 728.8 745.6 728.8C749 728.8 755.3 570.4 757.7 570.4C759.9 570.4 765.8 805.2 768.9 805.2C772 805.2 777.6 655.5 779.7 655.5C781.1 655.5 784.6 709.4 786.5 709.4C790.7 709.4 798.5 366.9 801.5 366.9C803.6 366.9 809.1 587.9 812 587.9C815.3 587.9 821.3 212.3 823.6 212.3C825.8 212.3 831.7 493.9 834.8 493.9C837.4 493.9 842.2 363.6 844.1 363.6C846.8 363.6 853.7 752.6 857.4 752.6C860 752.6 864.8 695.6 866.6 695.6C867.6 695.6 870.2 773.2 871.7 800.2C872.8 820.5 874.3 844.6 875.4 860.3C876.5 876 878.1 906.7 879.2 906.7C881.3 906.7 885.2 875.4 886.7 875.4C888.7 875.4 893.9 934.2 896.7 934.2C898.5 934.2 901.1 881 903 850.3C904.1 831.9 905.6 802.3 906.7 775.2C908.2 738.9 910.7 619.2 911.7 619.2C913.6 619.2 918.4 688.1 921 688.1C924.7 688.1 931.4 321.8 934 321.8C936.1 321.8 941.4 493.9 944.3 493.9C947.5 493.9 953.5 173.2 955.8 173.2C958.1 173.2 964.1 550.3 967.4 550.3C970.2 550.3 975.6 435.1 977.6 435.1C980.1 435.1 986.7 760.1 990.2 760.1C992.6 760.1 997.2 689.4 998.9 689.4C1001 689.4 1006.5 865.4 1009.5 865.4C1013 865.4 1019.5 658 1022 658C1024 658 1029.2 747.6 1032 747.6C1035.4 747.6 1041.6 466.4 1044 466.4C1046 466.4 1051.2 606.7 1054 606.7C1057.5 606.7 1063.9 280.5 1066.3 280.5C1068.4 280.5 1073.7 551.6 1076.6 551.6C1079.9 551.6 1086 312.5 1088.4 312.5C1090.6 312.5 1096.5 635.5 1099.6 635.5C1102.7 635.5 1108.3 532.8 1110.4 532.8C1112.5 532.8 1118 752.6 1120.9 752.6C1124.1 752.6 1130 570.4 1132.2 570.4C1134.5 570.4 1140.3 742.6 1143.5 742.6C1146.9 742.6 1153.1 464.6 1155.5 464.6C1157.4 464.6 1162.4 645.5 1165.1 645.5C1168.4 645.5 1174.7 433.8 1177.1 433.8C1179.2 433.8 1184.7 633 1187.6 633C1190.8 633 1196.8 424.6 1199.1 424.6C1201.2 424.6 1206.7 656.8 1209.6 656.8C1212.7 656.8 1218.5 496.5 1220.7 496.5C1222.8 496.5 1228.4 772.7 1231.4 772.7C1234.6 772.7 1240.5 526.5 1242.7 526.5C1244.8 526.5 1250.3 684.4 1253.2 684.4C1256.4 684.4 1262.3 465.6 1264.5 465.6C1266.7 465.6 1272.3 686.9 1275.3 686.9C1278.4 686.9 1284.3 507.7 1286.6 507.7C1288.8 507.7 1294.7 720.7 1297.8 720.7C1301 720.7 1306.9 568.4 1309.1 568.4C1311.3 568.4 1316.9 751.4 1319.9 751.4C1323 751.4 1328.9 574.1 1331.2 574.1C1333.3 574.1 1338.7 748.9 1341.7 748.9C1344.8 748.9 1350.7 516.5 1353 516.5C1355.2 516.5 1361.1 723.2 1364.2 723.2C1367.2 723.2 1372.8 546.1 1375 546.1C1377.3 546.1 1383.1 714.4 1386.3 714.4C1389.4 714.4 1395.1 548.3 1397.3 548.3C1399.5 548.3 1405.1 757.6 1408.1 757.6C1411 757.6 1416.5 660.6 1418.6 660.6C1420.8 660.6 1426.7 842.8 1429.9 842.8C1432.9 842.8 1438.5 654.3 1440.6 654.3C1442.9 654.3 1448.8 825.3 1451.9 825.3C1455.3 825.3 1461.5 554.1 1463.9 554.1C1465.4 554.1 1469.2 581.6 1471.2 581.6C1475.1 581.6 1482.4 336.3 1485.2 336.3C1487.3 336.3 1492.8 706.9 1495.8 706.9C1499.1 706.9 1505.2 385.7 1507.5 385.7C1509.7 385.7 1515.3 520.3 1518.3 520.3C1521.3 520.3 1526.9 352.6 1529.1 352.6C1531.4 352.6 1537.6 648 1540.9 648C1543.8 648 1549.3 457.6 1551.4 457.6C1553.8 457.6 1560 767.6 1563.4 767.6C1566.4 767.6 1572 562.8 1574.2 562.8C1576.3 562.8 1581.7 693.1 1584.7 693.1C1587.9 693.1 1593.7 456.4 1596 456.4C1598 456.4 1603.2 607.9 1606 607.9C1609.3 607.9 1615.6 361.4 1617.9 361.4C1620.1 361.4 1625.5 585.4 1628.5 585.4C1631.7 585.4 1637.7 329.3 1640 329.3C1642.1 329.3 1647.6 618 1650.5 618C1653.8 618 1659.9 475.2 1662.3 475.2C1664.3 475.2 1669.5 711.9 1672.3 711.9C1675.7 711.9 1681.9 477.7 1684.3 477.7C1686.4 477.7 1691.9 663.1 1694.9 663.1C1698 663.1 1703.9 422.5 1706.1 422.5C1708.2 422.5 1713.7 597.9 1716.7 597.9C1720 597.9 1726.1 335.6 1728.4 335.6C1730.6 335.6 1736.2 610.4 1739.2 610.4C1742.3 610.4 1748 398.2 1750.2 398.2C1752.5 398.2 1758.3 595.9 1761.8 680.6"/>
</g>
<g font-size="64px" text-anchor="end">
<text x="202" y="1237.3">50</text>
<text x="202" y="1003.5">100</text>
<text x="202" y="769.7">150</text>
<text x="202" y="535.9">200</text>
<text x="202" y="302.1">250</text>
<text x="202" y="68.3">300</text>
</g>
<g font-size="63.5px" text-anchor="middle">
<text x="228.0" y="1293.2">0</text>
<text x="626.0" y="1293.2">200</text>
<text x="1024.0" y="1293.2">400</text>
<text x="1422.0" y="1293.2">600</text>
<text x="1820.0" y="1293.2">800</text>
</g>
<text x="1028.5" y="1363" font-size="57px" text-anchor="middle">Distance/m</text>
<text transform="translate(68 681.5) rotate(-90)" font-size="63.5px" text-anchor="middle">Contact_force/N</text>
<g fill="none"><path stroke="#00ff00" stroke-width="1.9" d="M610 1009.5H750.5"/><path stroke="#ff0000" stroke-width="1.9" d="M1040 1018.7H1180"/><path stroke="#0000ff" stroke-width="1.9" d="M606.3 1111H746.6"/><path stroke="#000" stroke-width="4.4" d="M1032 1122H1172.7"/><path stroke="#ff00ff" stroke-width="5" d="M1462 1123.6H1602"/></g>
<g font-size="62.5px">
<text x="767" y="1031.5">280km/h</text>
<text x="1195" y="1039.5">320km/h</text>
<text x="763.5" y="1133">360km/h</text>
<text x="1189" y="1143.5">400km/h</text>
<text x="1617" y="1145">420km/h</text>
</g>
<g font-size="58px">
<text x="268" y="1032">Tunnel inlet</text>
<text x="1518" y="1035.6">Tunnel outlet</text>
</g>
<g stroke="#000" stroke-width="1.5" fill="#000">
<path d="M433 980.8L498 779" fill="none"/>
<path d="M508.2 750.3L505.7 781.6L490.2 776.6Z" stroke="none"/>
<path d="M1586.4 992.6L1471.7 709.4" fill="none"/>
<path d="M1459.5 681.5L1478.9 706.5L1464.5 712.2Z" stroke="none"/>
</g>
</svg>
</body></html>
